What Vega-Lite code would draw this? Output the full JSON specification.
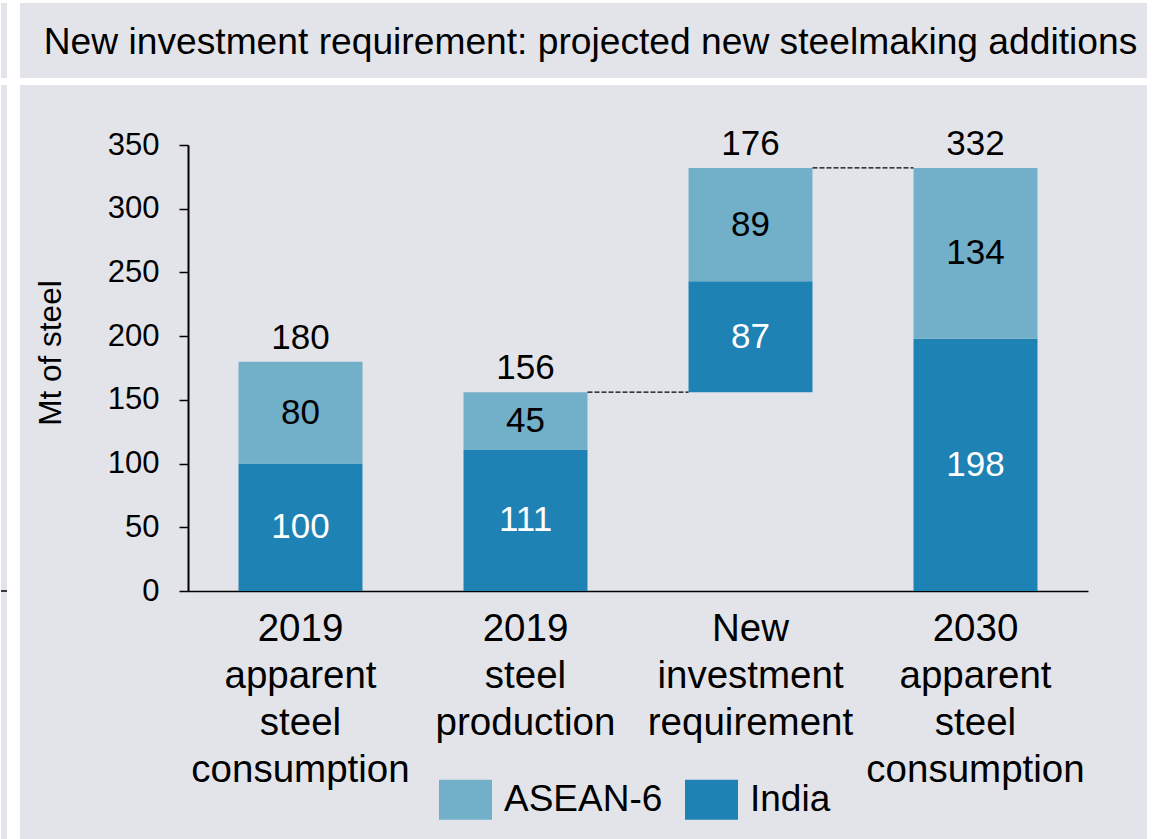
{
  "$schema": "https://vega.github.io/schema/vega-lite/v6.json",
  "background": "white",
  "padding": {"left": 0, "top": 3, "right": 6, "bottom": 0},
  "config": {
    "view": {"fill": "#e3e4e9", "stroke": null},
    "font": "Liberation Sans",
    "text": {"font": "Liberation Sans"}
  },
  "spacing": 12,
  "hconcat": [
    {
      "spacing": 7,
      "vconcat": [
        {"width": 6, "height": 75, "view": {"fill": "#e3e4e9", "stroke": null}, "data": {"values": [{}]}, "mark": {"type": "text", "text": ""}, "encoding": {}},
        {
          "width": 6, "height": 754, "view": {"fill": "#e3e4e9", "stroke": null},
          "data": {"values": [{"v": 0}]},
          "mark": {"type": "rule", "color": "black", "strokeWidth": 1.5},
          "encoding": {"y": {"field": "v", "type": "quantitative", "scale": {"domain": [0, 350], "range": [506, 60], "nice": false}, "axis": null}}
        }
      ]
    },
    {
      "spacing": 7,
      "vconcat": [
        {
          "width": 1127,
          "height": 75,
          "view": {"fill": "#e3e4e9", "stroke": null},
          "data": {"values": [{"t": "New investment requirement: projected new steelmaking additions"}]},
          "mark": {"type": "text", "fontSize": 37.2, "dx": 7, "dy": 2, "color": "black"},
          "encoding": {"text": {"field": "t", "type": "nominal"}}
        },
        {
          "width": 1127,
          "height": 754,
          "layer": [
            {
              "data": {"name": "seg", "values": [
                {"cat": "2019 apparent steel consumption", "region": "India", "lo": 0, "hi": 100, "value": 100},
                {"cat": "2019 apparent steel consumption", "region": "ASEAN-6", "lo": 100, "hi": 180, "value": 80},
                {"cat": "2019 steel production", "region": "India", "lo": 0, "hi": 111, "value": 111},
                {"cat": "2019 steel production", "region": "ASEAN-6", "lo": 111, "hi": 156, "value": 45},
                {"cat": "New investment requirement", "region": "India", "lo": 156, "hi": 243, "value": 87},
                {"cat": "New investment requirement", "region": "ASEAN-6", "lo": 243, "hi": 332, "value": 89},
                {"cat": "2030 apparent steel consumption", "region": "India", "lo": 0, "hi": 198, "value": 198},
                {"cat": "2030 apparent steel consumption", "region": "ASEAN-6", "lo": 198, "hi": 332, "value": 134}
              ]},
              "mark": {"type": "bar"},
              "encoding": {
                "x": {
                  "field": "cat", "type": "nominal",
                  "scale": {
                    "domain": ["2019 apparent steel consumption", "2019 steel production", "New investment requirement", "2030 apparent steel consumption"],
                    "range": [168, 1068], "paddingInner": 0.449, "paddingOuter": 0.2245
                  },
                  "axis": {
                    "title": null, "labelAngle": 0, "labelExpr": "split(datum.label, ' ')",
                    "labelFontSize": 38.5, "labelLineHeight": 47, "labelLimit": 0, "ticks": false,
                    "labelPadding": 19, "labelColor": "black", "domainColor": "black", "domainWidth": 1.5,
                    "offset": -248
                  }
                },
                "y": {
                  "field": "lo", "type": "quantitative", "title": "Mt of steel",
                  "scale": {"domain": [0, 350], "range": [506, 60], "nice": false},
                  "axis": {
                    "values": [0, 50, 100, 150, 200, 250, 300, 350], "grid": false,
                    "offset": -168, "tickSize": 9, "tickColor": "black", "tickWidth": 1.5,
                    "domainColor": "black", "domainWidth": 2, "labelFontSize": 31, "labelPadding": 20,
                    "labelColor": "black", "titleFontSize": 31.5, "titleFontWeight": "normal",
                    "titleColor": "black", "titlePadding": 40, "titleY": 267.5
                  }
                },
                "y2": {"field": "hi"},
                "color": {
                  "field": "region", "type": "nominal",
                  "scale": {"domain": ["ASEAN-6", "India"], "range": ["#72afc9", "#1f82b4"]},
                  "legend": {
                    "title": null, "orient": "none", "legendX": 438, "legendY": 770, "direction": "horizontal",
                    "symbolType": "M-1,-0.755H1V0.755H-1Z", "symbolSize": 2809, "symbolStrokeWidth": 0,
                    "labelFontSize": 37, "labelColor": "black", "labelOffset": 12, "columnPadding": 22
                  }
                }
              }
            },
            {
              "data": {"name": "seg"},
              "transform": [{"calculate": "(datum.lo + datum.hi) / 2", "as": "mid"}],
              "mark": {"type": "text", "fontSize": 35, "baseline": "middle"},
              "encoding": {
                "x": {"field": "cat", "type": "nominal"},
                "y": {"field": "mid", "type": "quantitative"},
                "text": {"field": "value", "type": "quantitative"},
                "color": {"condition": {"test": "datum.region === 'India'", "value": "white"}, "value": "black"}
              }
            },
            {
              "data": {"values": [
                {"cat": "2019 apparent steel consumption", "top": 180, "label": 180},
                {"cat": "2019 steel production", "top": 156, "label": 156},
                {"cat": "New investment requirement", "top": 332, "label": 176},
                {"cat": "2030 apparent steel consumption", "top": 332, "label": 332}
              ]},
              "mark": {"type": "text", "fontSize": 35, "baseline": "alphabetic", "dy": -13, "color": "black"},
              "encoding": {
                "x": {"field": "cat", "type": "nominal"},
                "y": {"field": "top", "type": "quantitative"},
                "text": {"field": "label", "type": "quantitative"}
              }
            },
            {
              "data": {"values": [
                {"from": "2019 steel production", "to": "New investment requirement", "level": 156},
                {"from": "New investment requirement", "to": "2030 apparent steel consumption", "level": 332}
              ]},
              "mark": {"type": "rule", "color": "black", "strokeWidth": 1.2, "strokeDash": [5, 2]},
              "encoding": {
                "x": {"field": "from", "type": "nominal", "bandPosition": 1},
                "x2": {"field": "to", "bandPosition": 0},
                "y": {"field": "level", "type": "quantitative"}
              }
            }
          ]
        }
      ]
    }
  ]
}
